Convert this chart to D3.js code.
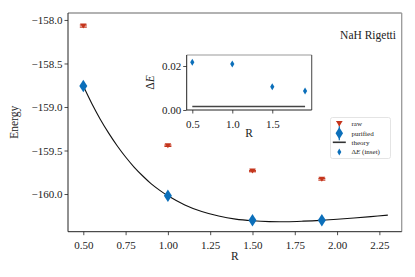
<!DOCTYPE html>
<html><head><meta charset="utf-8">
<script src="https://cdn.jsdelivr.net/npm/d3@7/dist/d3.min.js"></script>
<style>body{margin:0;background:#fff}svg{display:block}text{font-family:"Liberation Serif","DejaVu Serif",serif;fill:#222}</style>
</head><body><svg id="c" width="415" height="277"></svg>
<script>
// ---- data ----
const R = [0.5, 1.0, 1.5, 1.91];
const rawE = [-158.07, -159.445, -159.736, -159.83];
const rawErr = [0.012, 0.008, 0.008, 0.01];
const purE = [-158.76, -160.02, -160.30, -160.30];
const purErr = [0.035, 0.035, 0.035, 0.035];
const theoryR = [0.5, 0.55, 0.6, 0.65, 0.7, 0.75, 0.8, 0.85, 0.9, 0.95, 1.0, 1.1, 1.2, 1.3, 1.4, 1.5, 1.6, 1.7, 1.8, 1.9, 2.0, 2.1, 2.2, 2.3];
const theoryE = [-158.76, -158.96, -159.14, -159.30, -159.445, -159.575, -159.69, -159.79, -159.88, -159.955, -160.02, -160.125, -160.201, -160.253, -160.288, -160.307, -160.317, -160.318, -160.312, -160.303, -160.29, -160.276, -160.26, -160.243];
const dE = [0.0217, 0.0209, 0.0106, 0.0086];
const dEErr = [0.0008, 0.0008, 0.0008, 0.0008];
const chemAcc = 0.0016;
const xTicks = [0.50, 0.75, 1.00, 1.25, 1.50, 1.75, 2.00, 2.25];
const yTicks = [-158.0, -158.5, -159.0, -159.5, -160.0];
const insetXTicks = [0.5, 1.0, 1.5];
const insetYTicks = [0.00, 0.02];
const legendLabels = ["raw", "purified", "theory", "ΔE (inset)"];
const title = "NaH Rigetti";

const RED = "#c4351c", BLUE = "#0b6fba";
const svg = d3.select("#c");
const L = 68, Rt = 401.7, T = 13, B = 231.7;
const x = d3.scaleLinear().domain([0.4095, 2.382]).range([L, Rt]);
const y = d3.scaleLinear().domain([-160.433, -157.92]).range([B, T]);

// axes
const xa = svg.append("g").attr("transform", `translate(0,${B})`)
  .call(d3.axisBottom(x).tickValues(xTicks).tickFormat(d3.format(".2f")).tickSizeOuter(0).tickSize(3.5));
const ya = svg.append("g").attr("transform", `translate(${L},0)`)
  .call(d3.axisLeft(y).tickValues(yTicks).tickFormat(d => d3.format(".1f")(d).replace("-", "−")).tickSizeOuter(0).tickSize(3.5));
[xa, ya].forEach(a => {
  a.select(".domain").remove();
  a.selectAll("line").attr("stroke", "#222").attr("stroke-width", 0.8);
  a.selectAll("text").attr("font-size", 11).attr("fill", "#222").style("font-family", "Liberation Serif");
});
xa.selectAll("text").attr("dy", "1.0em");
ya.selectAll("text").attr("x", -5.5);
// spines
svg.append("line").attr("x1", L).attr("x2", Rt).attr("y1", T).attr("y2", T).attr("stroke", "#999").attr("stroke-width", 1.3);
svg.append("line").attr("x1", Rt).attr("x2", Rt).attr("y1", T).attr("y2", B).attr("stroke", "#999").attr("stroke-width", 1.3);
svg.append("line").attr("x1", L).attr("x2", L).attr("y1", T).attr("y2", B).attr("stroke", "#222").attr("stroke-width", 1);
svg.append("line").attr("x1", L).attr("x2", Rt).attr("y1", B).attr("y2", B).attr("stroke", "#222").attr("stroke-width", 1);

svg.append("text").attr("x", (L + Rt) / 2).attr("y", 260).attr("text-anchor", "middle").attr("font-size", 11.5).text("R");
svg.append("text").attr("transform", `translate(18,${(T + B) / 2}) rotate(-90)`).attr("text-anchor", "middle").attr("font-size", 11.5).text("Energy");
svg.append("text").attr("x", 396).attr("y", 39).attr("text-anchor", "end").attr("font-size", 11.5).text(title);

// theory
const line = d3.line().x((d, i) => x(theoryR[i])).y(d => y(d)).curve(d3.curveCatmullRom.alpha(0.5));
svg.append("path").attr("d", line(theoryE)).attr("fill", "none").attr("stroke", "#111").attr("stroke-width", 1.1);

const diamond = (w, h) => `M0,${-h / 2}L${w / 2},0L0,${h / 2}L${-w / 2},0Z`;
const tri = (w, h) => `M${-w / 2},${-h / 2}L${w / 2},${-h / 2}L0,${h / 2}Z`;

// raw
R.forEach((r, i) => {
  const g = svg.append("g");
  const cx = x(r), y1 = y(rawE[i] + rawErr[i]), y2 = y(rawE[i] - rawErr[i]);
  g.append("line").attr("x1", cx).attr("x2", cx).attr("y1", y1).attr("y2", y2).attr("stroke", RED).attr("stroke-width", 1.2);
  [y1, y2].forEach(yy => g.append("line").attr("x1", cx - 3.5).attr("x2", cx + 3.5).attr("y1", yy).attr("y2", yy).attr("stroke", RED).attr("stroke-width", 1.2));
  g.append("path").attr("d", tri(6.5, 5)).attr("transform", `translate(${cx},${y(rawE[i])})`).attr("fill", RED);
});
// purified
R.forEach((r, i) => {
  const cx = x(r);
  svg.append("line").attr("x1", cx).attr("x2", cx).attr("y1", y(purE[i] + purErr[i])).attr("y2", y(purE[i] - purErr[i])).attr("stroke", BLUE).attr("stroke-width", 1.2);
  svg.append("path").attr("d", diamond(8, 12.5)).attr("transform", `translate(${cx},${y(purE[i])})`).attr("fill", BLUE);
});

// inset
const iL = 186.7, iR = 311.7, iT = 55, iB = 110;
const ix = d3.scaleLinear().domain([0.43, 1.993]).range([iL, iR]);
const iy = d3.scaleLinear().domain([0, 0.025]).range([iB, iT]);
svg.append("rect").attr("x", iL).attr("y", iT).attr("width", iR - iL).attr("height", iB - iT).attr("fill", "#fff");
const ixa = svg.append("g").attr("transform", `translate(0,${iB})`)
  .call(d3.axisBottom(ix).tickValues(insetXTicks).tickFormat(d3.format(".1f")).tickSizeOuter(0).tickSize(3.5));
const iya = svg.append("g").attr("transform", `translate(${iL},0)`)
  .call(d3.axisLeft(iy).tickValues(insetYTicks).tickFormat(d3.format(".2f")).tickSizeOuter(0).tickSize(3.5));
[ixa, iya].forEach(a => {
  a.select(".domain").remove();
  a.selectAll("line").attr("stroke", "#222").attr("stroke-width", 0.8);
  a.selectAll("text").attr("font-size", 11).attr("fill", "#222").style("font-family", "Liberation Serif");
});
ixa.selectAll("text").attr("dy", "1.0em");
iya.selectAll("text").attr("x", -5.5);
svg.append("line").attr("x1", iL).attr("x2", iR).attr("y1", iT).attr("y2", iT).attr("stroke", "#999").attr("stroke-width", 1.2);
svg.append("line").attr("x1", iR).attr("x2", iR).attr("y1", iT).attr("y2", iB).attr("stroke", "#555").attr("stroke-width", 1.1);
svg.append("line").attr("x1", iL).attr("x2", iL).attr("y1", iT).attr("y2", iB).attr("stroke", "#222").attr("stroke-width", 1);
svg.append("line").attr("x1", iL).attr("x2", iR).attr("y1", iB).attr("y2", iB).attr("stroke", "#222").attr("stroke-width", 1);
svg.append("line").attr("x1", ix(R[0])).attr("x2", ix(R[R.length - 1])).attr("y1", iy(chemAcc)).attr("y2", iy(chemAcc)).attr("stroke", "#444").attr("stroke-width", 1.5);
R.forEach((r, i) => {
  const cx = ix(r);
  svg.append("line").attr("x1", cx).attr("x2", cx).attr("y1", iy(dE[i] + dEErr[i])).attr("y2", iy(dE[i] - dEErr[i])).attr("stroke", BLUE).attr("stroke-width", 1);
  svg.append("path").attr("d", diamond(4.2, 7)).attr("transform", `translate(${cx},${iy(dE[i])})`).attr("fill", BLUE);
});
svg.append("text").attr("x", (iL + iR) / 2).attr("y", 137).attr("text-anchor", "middle").attr("font-size", 11.5).text("R");
svg.append("text").attr("transform", `translate(154,${(iT + iB) / 2}) rotate(-90)`).attr("text-anchor", "middle").attr("font-size", 11.5)
  .html('Δ<tspan font-style="italic">E</tspan>');

// legend
const lg = svg.append("g");
lg.append("rect").attr("x", 330.5).attr("y", 117.5).attr("width", 60).attr("height", 41).attr("rx", 2)
  .attr("fill", "#fff").attr("stroke", "#ddd").attr("stroke-width", 0.8);
const ly = [124, 133.3, 142.3, 152];
const mx = 339.3;
// raw entry
lg.append("line").attr("x1", mx).attr("x2", mx).attr("y1", ly[0] - 2.5).attr("y2", ly[0] + 2.5).attr("stroke", RED).attr("stroke-width", 1);
lg.append("line").attr("x1", mx - 3).attr("x2", mx + 3).attr("y1", ly[0] - 2.5).attr("y2", ly[0] - 2.5).attr("stroke", RED).attr("stroke-width", 1);
lg.append("path").attr("d", tri(6, 5)).attr("transform", `translate(${mx},${ly[0]})`).attr("fill", RED);
// purified
lg.append("line").attr("x1", mx).attr("x2", mx).attr("y1", ly[1] - 7).attr("y2", ly[1] + 7).attr("stroke", BLUE).attr("stroke-width", 1.2);
lg.append("path").attr("d", diamond(7.5, 12)).attr("transform", `translate(${mx},${ly[1]})`).attr("fill", BLUE);
// theory
lg.append("line").attr("x1", mx - 6.5).attr("x2", mx + 6.5).attr("y1", ly[2]).attr("y2", ly[2]).attr("stroke", "#333").attr("stroke-width", 1.6);
// dE
lg.append("path").attr("d", diamond(4, 7)).attr("transform", `translate(${mx},${ly[3]})`).attr("fill", BLUE);
legendLabels.forEach((t, i) => {
  const tx = lg.append("text").attr("x", 351.5).attr("y", ly[i] + 2.3).attr("font-size", 7);
  if (i === 3) tx.html('Δ<tspan font-style="italic">E</tspan> (inset)'); else tx.text(t);
});
</script></body></html>
